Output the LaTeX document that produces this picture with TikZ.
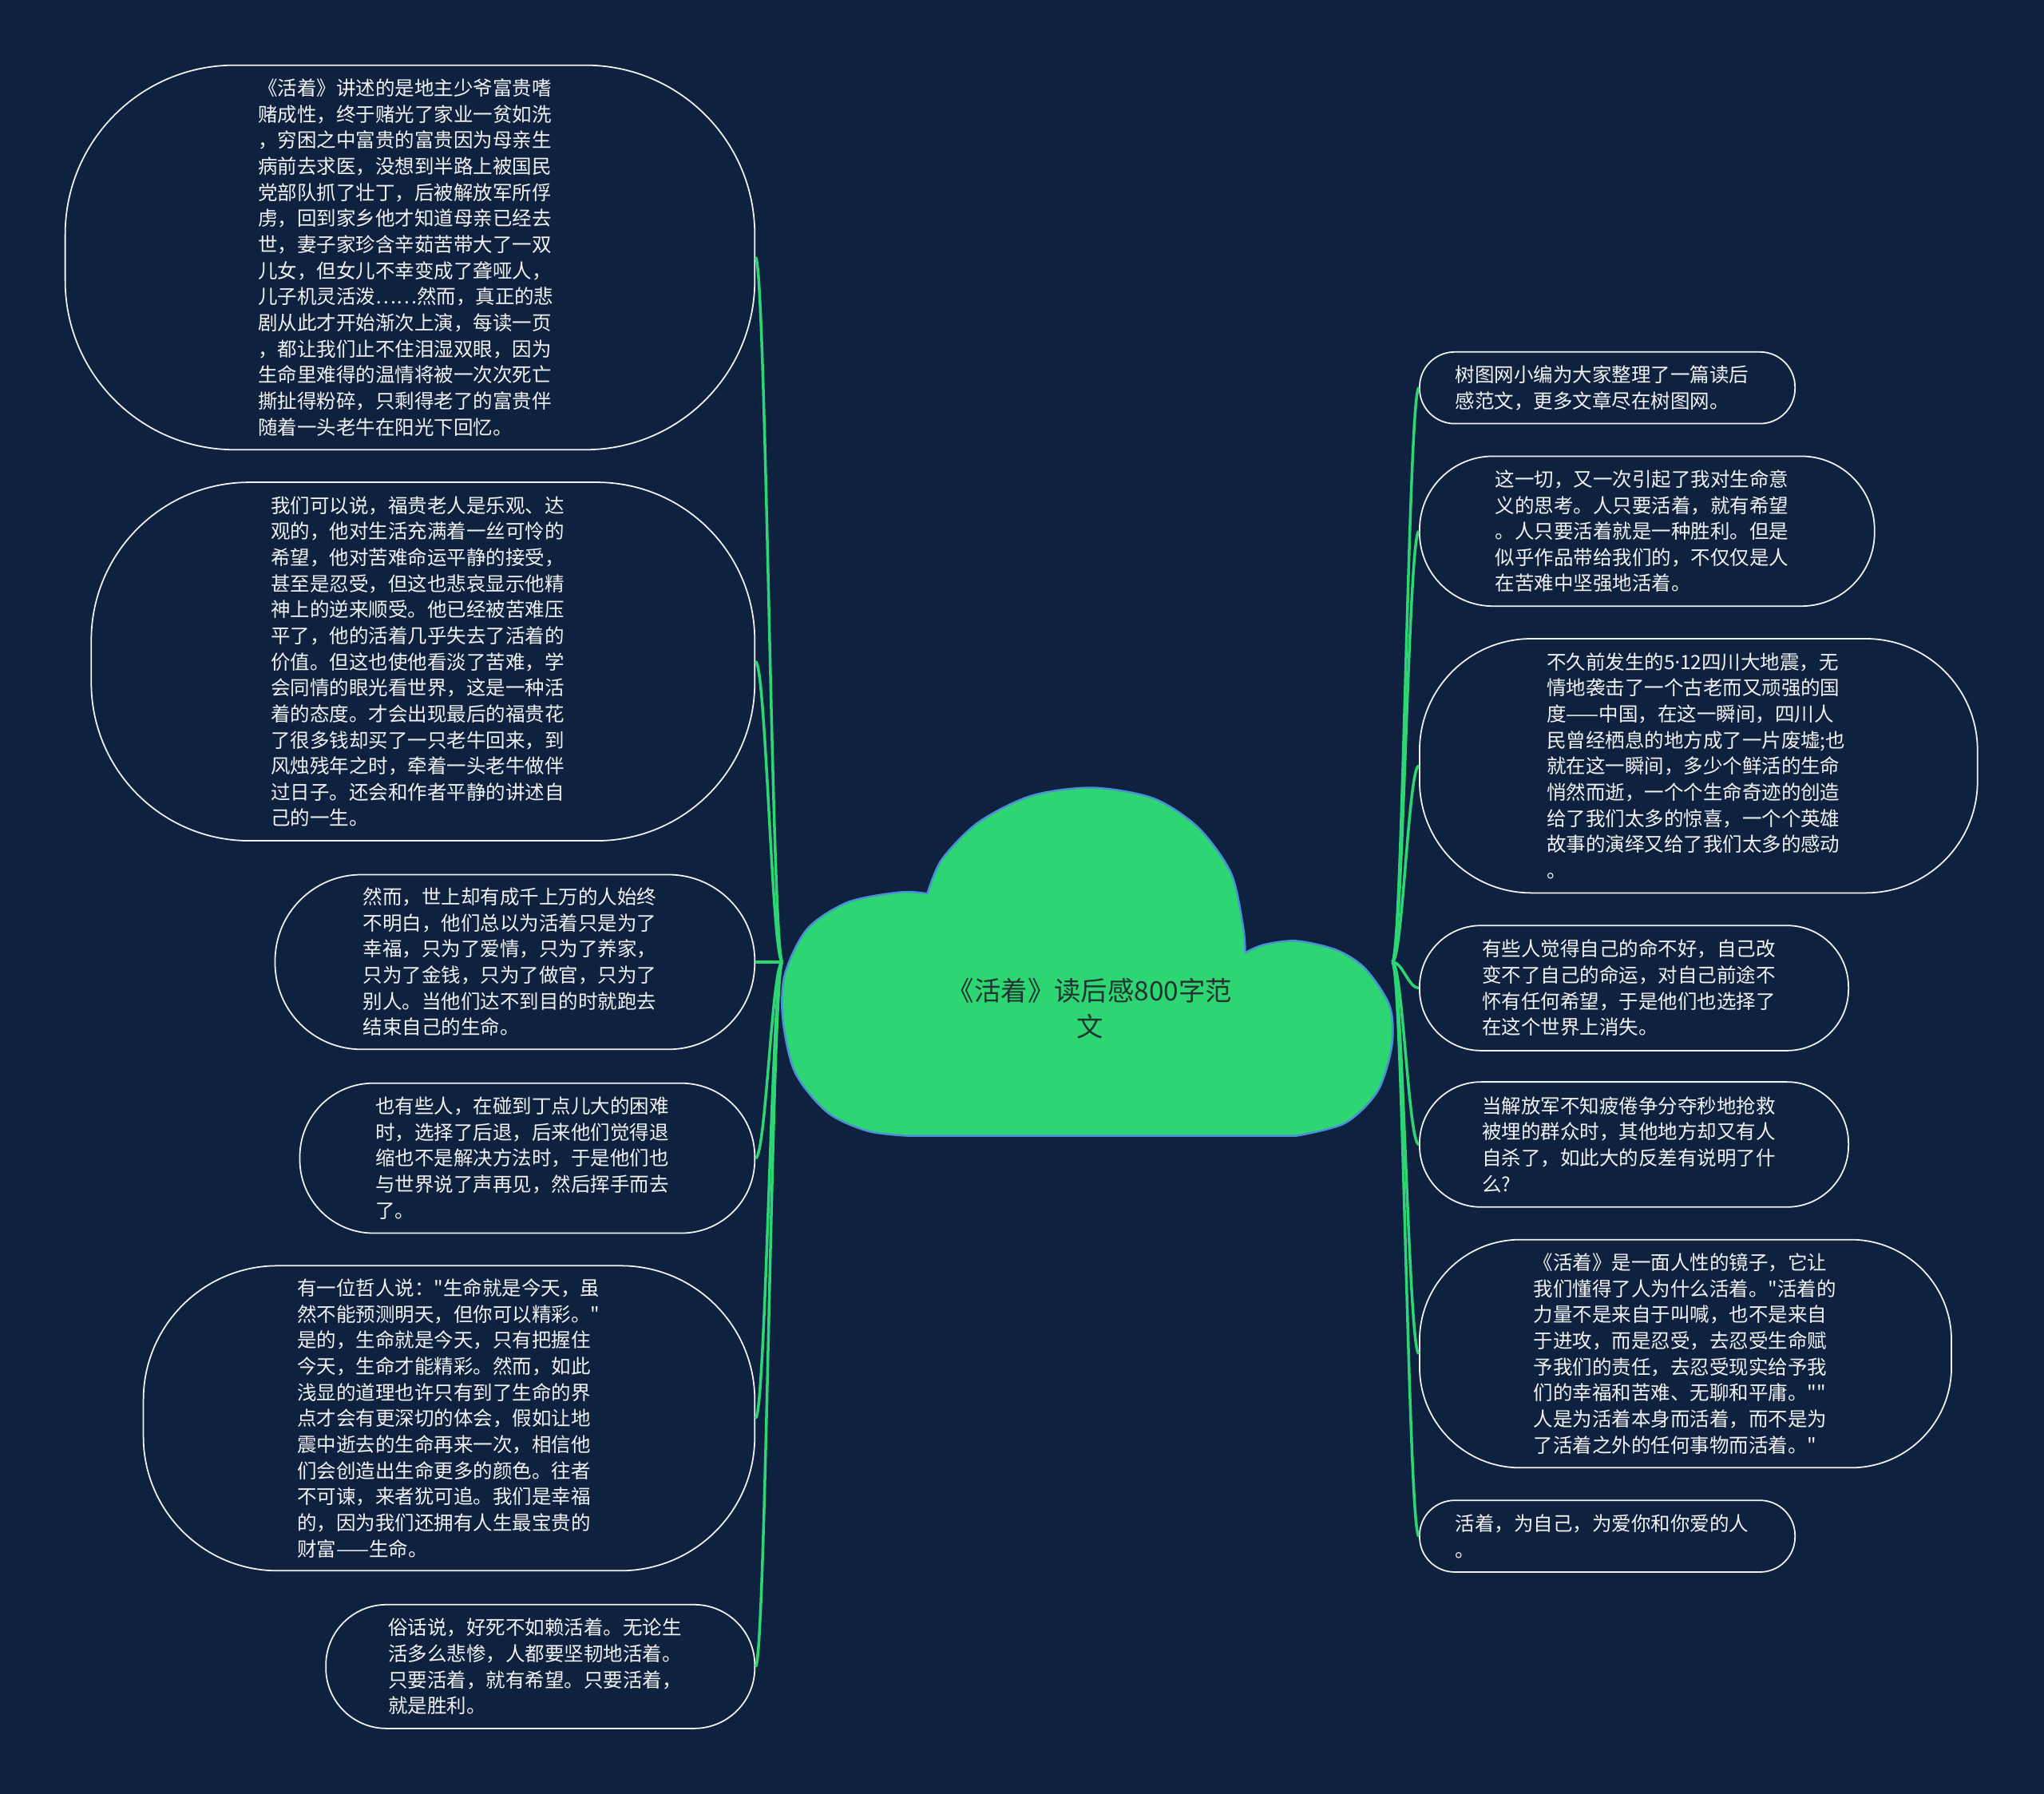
\documentclass[tikz,border=0pt]{standalone}
\usepackage{fontspec}
\setmainfont{Noto Sans CJK SC}[Ligatures=TeXOff]
\newfontfamily\latinf{Noto Sans}
\definecolor{bg}{HTML}{0E2240}
\definecolor{grn}{HTML}{2ED573}
\definecolor{cloudline}{HTML}{4A8FD8}
\definecolor{txt}{HTML}{F2F2F2}
\definecolor{ctxt}{HTML}{223330}
\begin{document}
\begin{tikzpicture}[x=0.016327cm,y=-0.016327cm,
  leaf/.style={draw=txt, line width=0.5pt, fill=bg, text=txt, align=left, inner sep=0pt,
    text width=108.3pt, font=\fontsize{6.97pt}{9.29pt}\selectfont},
  conn/.style={draw=grn, line width=1pt},
  titlestyle/.style={font=\fontsize{9.5pt}{12.8pt}\selectfont, text=ctxt, align=center}]
\fill[bg] (0,0) rectangle (1568,1376.2);
\useasboundingbox (0,0) rectangle (1568,1376.2);

% central cloud
\filldraw[fill=grn, draw=cloudline, line width=0.7pt]
  plot[smooth] coordinates {(711.4,685.6) (691,684.4) (650.5,692.1) (619.3,712.6) (602.1,747.3) (600.5,782) (609.9,822.8) (634.9,853.5) (666.1,867.8) (697.4,871.4)}
  -- plot[smooth] coordinates {(994.3,871.4) (1031.8,861.6) (1056.8,837.1) (1067.7,802.4) (1066.1,771.8) (1047.4,743.2) (1025.5,728.9) (994.3,721.8) (969.3,724.8) (955.2,730.9)}
  -- plot[smooth] coordinates {(955.2,730.9) (953.6,710.5) (944.3,669.7) (919.3,635) (884.9,612.5) (838,604.3) (791.1,610.5) (750.5,630.9) (722.4,659.5) (711.4,685.6)}
  -- cycle;
\node[titlestyle] (title) at (836,773.5) {《活着》读后感800字范\\文};
\coordinate (hubL) at (600.2,738);
\coordinate (hubR) at (1068,738);

% left nodes
\node[leaf, minimum width=8.637cm, minimum height=4.816cm, rounded corners=2.12cm] (L1) at (314.5,197.5) {《活着》讲述的是地主少爷富贵嗜\\赌成性，终于赌光了家业一贫如洗\\，穷困之中富贵的富贵因为母亲生\\病前去求医，没想到半路上被国民\\党部队抓了壮丁，后被解放军所俘\\虏，回到家乡他才知道母亲已经去\\世，妻子家珍含辛茹苦带大了一双\\儿女，但女儿不幸变成了聋哑人，\\儿子机灵活泼……然而，真正的悲\\剧从此才开始渐次上演，每读一页\\，都让我们止不住泪湿双眼，因为\\生命里难得的温情将被一次次死亡\\撕扯得粉碎，只剩得老了的富贵伴\\随着一头老牛在阳光下回忆。};
\node[leaf, minimum width=8.310cm, minimum height=4.490cm, rounded corners=1.98cm] (L2) at (324.5,507.5) {我们可以说，福贵老人是乐观、达\\观的，他对生活充满着一丝可怜的\\希望，他对苦难命运平静的接受，\\甚至是忍受，但这也悲哀显示他精\\神上的逆来顺受。他已经被苦难压\\平了，他的活着几乎失去了活着的\\价值。但这也使他看淡了苦难，学\\会同情的眼光看世界，这是一种活\\着的态度。才会出现最后的福贵花\\了很多钱却买了一只老牛回来，到\\风烛残年之时，牵着一头老牛做伴\\过日子。还会和作者平静的讲述自\\己的一生。};
\node[leaf, minimum width=6.008cm, minimum height=2.188cm, rounded corners=1.08cm] (L3) at (395,738) {然而，世上却有成千上万的人始终\\不明白，他们总以为活着只是为了\\幸福，只为了爱情，只为了养家，\\只为了金钱，只为了做官，只为了\\别人。当他们达不到目的时就跑去\\结束自己的生命。};
\node[leaf, minimum width=5.698cm, minimum height=1.878cm, rounded corners=0.92cm] (L4) at (404.5,888.5) {也有些人，在碰到丁点儿大的困难\\时，选择了后退，后来他们觉得退\\缩也不是解决方法时，于是他们也\\与世界说了声再见，然后挥手而去\\了。};
\node[leaf, minimum width=7.657cm, minimum height=3.820cm, rounded corners=1.68cm] (L5) at (344.5,1088) {有一位哲人说："生命就是今天，虽\\然不能预测明天，但你可以精彩。"\\是的，生命就是今天，只有把握住\\今天，生命才能精彩。然而，如此\\浅显的道理也许只有到了生命的界\\点才会有更深切的体会，假如让地\\震中逝去的生命再来一次，相信他\\们会创造出生命更多的颜色。往者\\不可谏，来者犹可追。我们是幸福\\的，因为我们还拥有人生最宝贵的\\财富——生命。};
\node[leaf, minimum width=5.372cm, minimum height=1.551cm, rounded corners=0.76cm] (L6) at (414.5,1278.5) {俗话说，好死不如赖活着。无论生\\活多么悲惨，人都要坚韧地活着。\\只要活着，就有希望。只要活着，\\就是胜利。};

% right nodes
\node[leaf, minimum width=4.702cm, minimum height=0.898cm, rounded corners=0.44cm] (R1) at (1233,297.5) {树图网小编为大家整理了一篇读后\\感范文，更多文章尽在树图网。};
\node[leaf, minimum width=5.698cm, minimum height=1.878cm, rounded corners=0.92cm] (R2) at (1263.5,407.5) {这一切，又一次引起了我对生命意\\义的思考。人只要活着，就有希望\\。人只要活着就是一种胜利。但是\\似乎作品带给我们的，不仅仅是人\\在苦难中坚强地活着。};
\node[leaf, minimum width=6.988cm, minimum height=3.184cm, rounded corners=1.40cm] (R3) at (1303,587.5) {不久前发生的5{\latinf ·}12四川大地震，无\\情地袭击了一个古老而又顽强的国\\度——中国，在这一瞬间，四川人\\民曾经栖息的地方成了一片废墟;也\\就在这一瞬间，多少个鲜活的生命\\悄然而逝，一个个生命奇迹的创造\\给了我们太多的惊喜，一个个英雄\\故事的演绎又给了我们太多的感动\\。};
\node[leaf, minimum width=5.372cm, minimum height=1.567cm, rounded corners=0.77cm] (R4) at (1253.5,758) {有些人觉得自己的命不好，自己改\\变不了自己的命运，对自己前途不\\怀有任何希望，于是他们也选择了\\在这个世界上消失。};
\node[leaf, minimum width=5.372cm, minimum height=1.567cm, rounded corners=0.77cm] (R5) at (1253.5,878) {当解放军不知疲倦争分夺秒地抢救\\被埋的群众时，其他地方却又有人\\自杀了，如此大的反差有说明了什\\么?};
\node[leaf, minimum width=6.661cm, minimum height=2.857cm, rounded corners=1.26cm] (R6) at (1293,1038.5) {《活着》是一面人性的镜子，它让\\我们懂得了人为什么活着。"活着的\\力量不是来自于叫喊，也不是来自\\于进攻，而是忍受，去忍受生命赋\\予我们的责任，去忍受现实给予我\\们的幸福和苦难、无聊和平庸。""\\人是为活着本身而活着，而不是为\\了活着之外的任何事物而活着。"};
\node[leaf, minimum width=4.702cm, minimum height=0.898cm, rounded corners=0.44cm] (R7) at (1233,1178.5) {活着，为自己，为爱你和你爱的人\\。};

% connectors
\foreach \n in {L1,L2,L3,L4,L5,L6}
  \draw[conn] (hubL) .. controls +(-8,0) and +(8,0) .. (\n.east);
\foreach \n in {R1,R2,R3,R4,R5,R6,R7}
  \draw[conn] (hubR) .. controls +(8,0) and +(-8,0) .. (\n.west);
\end{tikzpicture}
\end{document}
